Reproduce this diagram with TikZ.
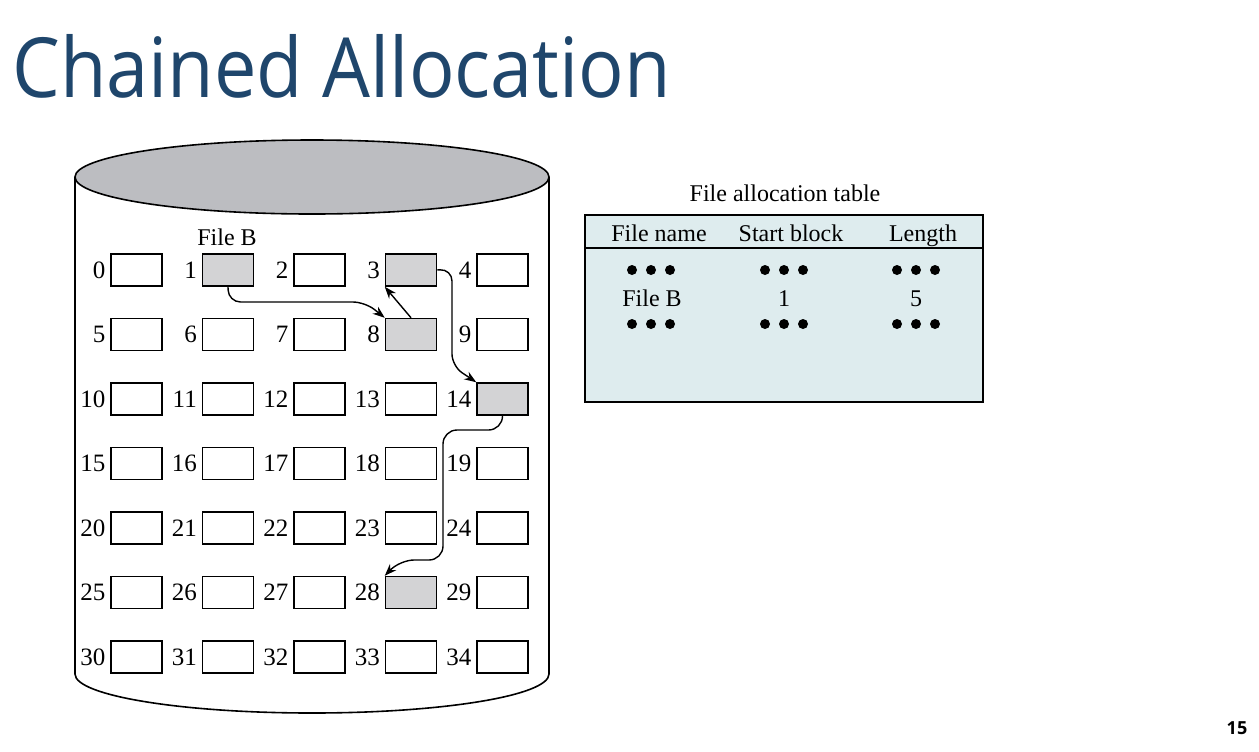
\documentclass[tikz,border=0pt]{standalone}
\usepackage{fontspec}
\usepackage{graphicx}
\setmainfont{Liberation Serif}
\newfontfamily\titlefont{Open Sans}
\usetikzlibrary{arrows.meta}
\definecolor{titleblue}{RGB}{31,70,108}
\definecolor{blockgray}{RGB}{211,211,213}
\definecolor{topgray}{RGB}{188,189,193}
\definecolor{tablefill}{RGB}{222,236,238}
\begin{document}
\begin{tikzpicture}[x=0.5pt,y=-0.5pt,
  blk/.style={draw, line width=0.75pt, minimum width=25.5pt, minimum height=16pt, inner sep=0pt, fill=white},
  used/.style={blk, fill=blockgray},
  num/.style={anchor=east, inner sep=0pt, font=\fontsize{12.5}{14}\selectfont},
  txt/.style={anchor=base, inner sep=0pt, font=\fontsize{12}{14}\selectfont},
  arr/.style={-{Stealth[length=6pt,width=4.4pt]}, line width=0.7pt, rounded corners=6pt},
  dot/.style={fill=black}]
\useasboundingbox (0,0) rectangle (1259,751);
% title
\node[anchor=base west, inner sep=0pt, text=titleblue, font=\titlefont\fontsize{41.5}{41.5}\selectfont] (title) at (12,97) {\scalebox{0.912}[1]{Chained Allocation}};
\node[inner sep=0pt, font=\titlefont\bfseries\fontsize{9}{9}\selectfont] (page) at (1237,728.5) {15};
% cylinder
\draw[line width=0.8pt] (75,177) -- (75,674) arc[start angle=180, end angle=0, x radius=237, y radius=39] -- (549,177);
\draw[line width=0.8pt, fill=topgray] (312,177) ellipse [x radius=237, y radius=37];
\node[txt] (fileB) at (227,245) {File B};
% blocks
\foreach \r in {0,...,6} {
  \foreach \c in {0,...,4} {
    \pgfmathtruncatemacro\n{5*\r+\c}
    \def\st{blk}
    \ifnum\n=1 \def\st{used}\fi
    \ifnum\n=3 \def\st{used}\fi
    \ifnum\n=8 \def\st{used}\fi
    \ifnum\n=14 \def\st{used}\fi
    \ifnum\n=28 \def\st{used}\fi
    \node[\st] (b\n) at (136.5+91.5*\c, 270+64.5*\r) {};
    \node[num] (l\n) at ([xshift=-2.3pt]b\n.west) {\n};
  }
}
% chain
\draw[arr] (b1.south) -- (228.5,302) -- (365,302) -- (b8.north west);
\draw[arr, rounded corners=0pt] (b8.north) -- (b3.south west);
\draw[arr] (b3.east) -- (452,269) -- (452,366) -- (b14.north west);
\draw[arr, rounded corners=7pt] (b14.south) -- (502.5,430) -- (443,430) -- (443,560) -- (400,560) -- (b28.north west);
% table
\node[txt] (fattitle) at (785,201.5) {File allocation table};
\node[draw, line width=0.8pt, fill=tablefill, minimum width=199pt, minimum height=93.5pt, inner sep=0pt] (fat) at (784,308.5) {};
\draw[line width=0.8pt] (fat.west |- 0,248) -- (fat.east |- 0,248);
\node[txt] (h1) at (659,241.5) {File name};
\node[txt] (h2) at (791,241.5) {Start block};
\node[txt] (h3) at (923,241.5) {Length};
\node[txt] (v1) at (652,306) {File B};
\node[txt] (v2) at (784,306) {1};
\node[txt] (v3) at (916,306) {5};
\foreach \cx in {651,784,916} {
  \foreach \cy in {270,324} {
    \foreach \d in {-19,0,19} {
      \fill[dot] (\cx+\d,\cy) circle[radius=2.5pt];
    }
  }
}
\end{tikzpicture}
\end{document}
